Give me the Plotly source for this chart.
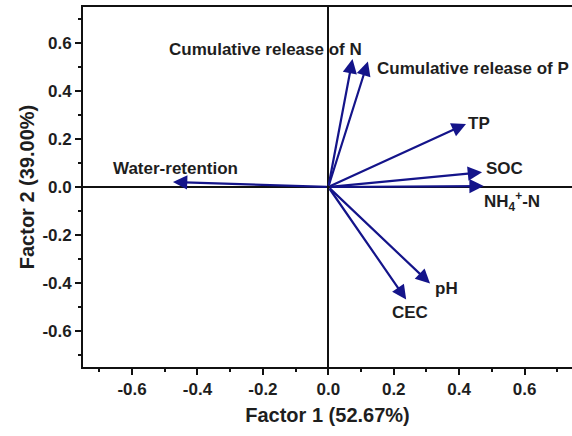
import plotly.graph_objects as go

# Loadings (Factor 1, Factor 2)
variables = ["Cumulative release of N", "Cumulative release of P", "TP", "SOC",
             "NH<sub>4</sub><sup>+</sup>-N", "Water-retention", "pH", "CEC"]
factor1 = [0.074, 0.121, 0.421, 0.470, 0.475, -0.475, 0.311, 0.238]
factor2 = [0.533, 0.523, 0.263, 0.061, 0.004, 0.021, -0.402, -0.469]

x_ticks = [-0.6, -0.4, -0.2, 0.0, 0.2, 0.4, 0.6]
x_ticklabels = ["-0.6", "-0.4", "-0.2", "0.0", "0.2", "0.4", "0.6"]
y_ticks = [-0.6, -0.4, -0.2, 0.0, 0.2, 0.4, 0.6]
y_ticklabels = ["-0.6", "-0.4", "-0.2", "0.0", "0.2", "0.4", "0.6"]

# label placement (offset from arrow tip, in data units) and anchor
label_dx = [0.036, 0.022, 0.0, 0.007, -0.005, -0.188, 0.009, 0.013]
label_dy = [0.039, -0.028, 0.0, 0.017, -0.065, 0.057, -0.021, -0.055]
label_anchor = ["right", "left", "left", "left", "left", "left", "left", "center"]

ARROW = "#14148a"
TXT = "#1e1e1e"
FONT = "Arial, Liberation Sans, sans-serif"

fig = go.Figure()
fig.add_trace(go.Scatter(x=[None], y=[None], showlegend=False))

annotations = []
for name, fx, fy, dx, dy, anc in zip(variables, factor1, factor2, label_dx, label_dy, label_anchor):
    annotations.append(dict(
        x=fx, y=fy, ax=0, ay=0, xref="x", yref="y", axref="x", ayref="y",
        showarrow=True, arrowhead=2, arrowsize=1.3, arrowwidth=2.2,
        arrowcolor=ARROW, text=""))
    annotations.append(dict(
        x=fx + dx, y=fy + dy, xref="x", yref="y", showarrow=False, text=name,
        xanchor=anc, yanchor="middle",
        font=dict(family=FONT, size=17, color=TXT, weight="bold")))

axis_common = dict(
    showgrid=False, zeroline=True, zerolinecolor="#111", zerolinewidth=1.8,
    showline=True, linecolor="#111", linewidth=1.8,
    ticks="outside", ticklen=6, tickwidth=1.8, tickcolor="#111",
    tickfont=dict(family=FONT, size=17, color=TXT, weight="bold"),
    minor=dict(ticks="outside", ticklen=3, tickwidth=1.5, tickcolor="#111", dtick=0.1, showgrid=False),
)

fig.update_layout(
    width=572, height=436,
    margin=dict(l=83, r=0, t=7, b=69),
    paper_bgcolor="white", plot_bgcolor="white",
    annotations=annotations,
    xaxis=dict(range=[-0.75, 0.745], tickmode="array", tickvals=x_ticks, ticktext=x_ticklabels,
               mirror=True,
               title=dict(text="Factor 1 (52.67%)", standoff=10,
                          font=dict(family=FONT, size=20, color=TXT, weight="bold")),
               **axis_common),
    yaxis=dict(range=[-0.75, 0.75], tickmode="array", tickvals=y_ticks, ticktext=y_ticklabels,
               title=dict(text="Factor 2 (39.00%)", standoff=2,
                          font=dict(family=FONT, size=20, color=TXT, weight="bold")),
               **axis_common),
)

fig.write_html("out.html")
